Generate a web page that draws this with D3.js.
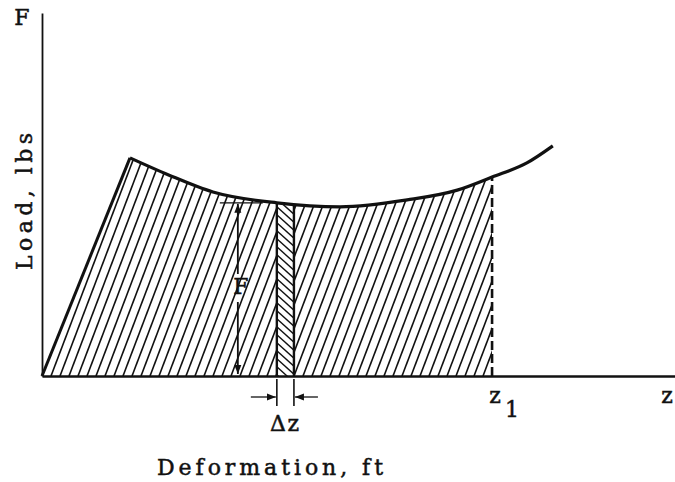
<!DOCTYPE html>
<html>
<head>
<meta charset="utf-8">
<script src="https://cdn.jsdelivr.net/npm/d3@7"></script>
<style>
body { margin: 0; background: #fff; }
text { font-family: "DejaVu Serif", serif; font-size: 22px; fill: #111; stroke: #111; stroke-width: 0.5px; }
</style>
</head>
<body>
<div id="chart"></div>
<script>
// load vs deformation (arbitrary units, no scale given)
var riseDeformation = [0, 1.39];
var riseLoad = [0, 60.1];
var curveDeformation = [1.39, 2.0, 2.7, 3.71, 4.71, 5.77, 6.56, 7.11, 7.66, 8.07];
var curveLoad = [60.1, 55.4, 50.7, 47.7, 46.6, 48.5, 51.2, 54.8, 58.7, 63.4];

// marked positions on the deformation axis
var z1 = 7.11, z1Load = 54.8;
var stripStart = 3.71, stripEnd = 3.98, stripLoad = 47.7;

var labels = { y: "Load, lbs", x: "Deformation, ft", yEnd: "F", xEnd: "z", z1: "z", z1Sub: "1", dz: "\u0394z", force: "F" };

var width = 675, height = 482;

var x = d3.scaleLinear().domain([0, 10]).range([42, 675]);
var y = d3.scaleLinear().domain([0, 100]).range([376, 13]);

var svg = d3.select("#chart").append("svg")
    .attr("width", width)
    .attr("height", height);

var defs = svg.append("defs");

defs.append("marker")
    .attr("id", "arrow")
    .attr("viewBox", "0 -4 9 8")
    .attr("refX", 9)
    .attr("refY", 0)
    .attr("markerUnits", "userSpaceOnUse")
    .attr("markerWidth", 9)
    .attr("markerHeight", 8)
    .attr("orient", "auto")
  .append("path")
    .attr("d", "M0,-3.5L9,0L0,3.5Z")
    .attr("fill", "#111");

var curvePts = curveDeformation.map(function(d, i) { return [d, curveLoad[i]]; });
var risePts = riseDeformation.map(function(d, i) { return [d, riseLoad[i]]; });

var line = d3.line()
    .x(function(d) { return x(d[0]); })
    .y(function(d) { return y(d[1]); })
    .curve(d3.curveMonotoneX);

var straight = d3.line()
    .x(function(d) { return x(d[0]); })
    .y(function(d) { return y(d[1]); });

// region under the load curve (rise + curve), used to clip hatching
var areaPath = "M" + x(0) + "," + y(0) + "L" + line(curvePts).slice(1) +
    "L" + x(curveDeformation[curveDeformation.length - 1]) + "," + y(0) + "Z";

defs.append("clipPath").attr("id", "under-curve")
  .append("path").attr("d", areaPath);

defs.append("clipPath").attr("id", "to-z1")
  .append("rect")
    .attr("x", x(0)).attr("y", y(100))
    .attr("width", x(z1) - x(0)).attr("height", y(0) - y(100));

defs.append("clipPath").attr("id", "strip")
  .append("rect")
    .attr("x", x(stripStart)).attr("y", y(100))
    .attr("width", x(stripEnd) - x(stripStart)).attr("height", y(0) - y(100));

var hatch = svg.append("g").attr("clip-path", "url(#to-z1)")
  .append("g").attr("clip-path", "url(#under-curve)");

// forward hatching
var lean = 0.38 * (y(0) - y(100));
hatch.selectAll(".hatch")
    .data(d3.range(-30, 60))
  .enter().append("line")
    .attr("class", "hatch")
    .attr("x1", function(k) { return x(0) + k * 9; })
    .attr("y1", y(0))
    .attr("x2", function(k) { return x(0) + k * 9 + lean; })
    .attr("y2", y(100))
    .attr("stroke", "#111")
    .attr("stroke-width", 1.6);

// the dz strip: blank it and hatch the other way
var strip = hatch.append("g").attr("clip-path", "url(#strip)");
strip.append("rect")
    .attr("x", x(stripStart)).attr("y", y(100))
    .attr("width", x(stripEnd) - x(stripStart)).attr("height", y(0) - y(100))
    .attr("fill", "#fff");

var sw = x(stripEnd) - x(stripStart);
strip.selectAll(".back")
    .data(d3.range(-2, 26))
  .enter().append("line")
    .attr("class", "back")
    .attr("x1", x(stripStart))
    .attr("y1", function(k) { return y(stripLoad) + k * 8 - 4; })
    .attr("x2", x(stripEnd))
    .attr("y2", function(k) { return y(stripLoad) + k * 8 - 4 + 0.9 * sw; })
    .attr("stroke", "#111")
    .attr("stroke-width", 1.4);

hatch.selectAll(".edge")
    .data([stripStart, stripEnd])
  .enter().append("line")
    .attr("class", "edge")
    .attr("x1", function(d) { return x(d); })
    .attr("x2", function(d) { return x(d); })
    .attr("y1", y(0))
    .attr("y2", y(80))
    .attr("stroke", "#111")
    .attr("stroke-width", 2.4);

// axes, no ticks
svg.append("g")
    .attr("transform", "translate(" + x(0) + ",0)")
    .call(d3.axisLeft(y).tickValues([]).tickSizeOuter(0))
    .select(".domain").attr("stroke", "#111").attr("stroke-width", 1.8);

svg.append("g")
    .attr("transform", "translate(0," + y(0) + ")")
    .call(d3.axisBottom(x).tickValues([]).tickSizeOuter(0))
    .select(".domain").attr("stroke", "#111").attr("stroke-width", 2.6);

// z1 dashed ordinate
svg.append("line")
    .attr("x1", x(z1)).attr("x2", x(z1))
    .attr("y1", y(0)).attr("y2", y(z1Load))
    .attr("stroke", "#111")
    .attr("stroke-width", 2.6)
    .attr("stroke-dasharray", "9,4");

// load curve
svg.append("path")
    .attr("d", straight(risePts))
    .attr("fill", "none")
    .attr("stroke", "#111")
    .attr("stroke-width", 3);

svg.append("path")
    .attr("d", line(curvePts))
    .attr("fill", "none")
    .attr("stroke", "#111")
    .attr("stroke-width", 3.2);

// F dimension
var fx = x(stripStart) - 39;
svg.append("line")
    .attr("x1", x(stripStart) - 57).attr("x2", x(stripStart) - 14)
    .attr("y1", y(stripLoad)).attr("y2", y(stripLoad))
    .attr("stroke", "#111").attr("stroke-width", 1.3);

svg.append("line")
    .attr("x1", fx).attr("x2", fx)
    .attr("y1", 274).attr("y2", y(stripLoad) + 1)
    .attr("stroke", "#111").attr("stroke-width", 1.8)
    .attr("marker-end", "url(#arrow)");

svg.append("line")
    .attr("x1", fx).attr("x2", fx)
    .attr("y1", 302).attr("y2", y(0) - 2)
    .attr("stroke", "#111").attr("stroke-width", 1.8)
    .attr("marker-end", "url(#arrow)");

svg.append("text")
    .attr("x", fx + 3).attr("y", 294)
    .attr("text-anchor", "middle")
    .text(labels.force);

// dz dimension
svg.selectAll(".ext")
    .data([stripStart, stripEnd])
  .enter().append("line")
    .attr("class", "ext")
    .attr("x1", function(d) { return x(d); })
    .attr("x2", function(d) { return x(d); })
    .attr("y1", y(0) + 3).attr("y2", y(0) + 30)
    .attr("stroke", "#111").attr("stroke-width", 1.6);

svg.append("line")
    .attr("x1", x(stripStart) - 26).attr("x2", x(stripStart) - 1)
    .attr("y1", 397).attr("y2", 397)
    .attr("stroke", "#111").attr("stroke-width", 1.3)
    .attr("marker-end", "url(#arrow)");

svg.append("line")
    .attr("x1", x(stripEnd) + 24).attr("x2", x(stripEnd) + 1)
    .attr("y1", 397).attr("y2", 397)
    .attr("stroke", "#111").attr("stroke-width", 1.3)
    .attr("marker-end", "url(#arrow)");

svg.append("text")
    .attr("x", 270).attr("y", 431)
    .attr("textLength", 29)
    .attr("lengthAdjust", "spacing")
    .text(labels.dz);

// axis labels
svg.append("text")
    .attr("x", 22).attr("y", 25)
    .attr("text-anchor", "middle")
    .text(labels.yEnd);

svg.append("text")
    .attr("transform", "translate(32,270) rotate(-90)")
    .attr("textLength", 137)
    .attr("lengthAdjust", "spacing")
    .text(labels.y);

svg.append("text")
    .attr("x", 667).attr("y", 403)
    .attr("text-anchor", "middle")
    .text(labels.xEnd);

svg.append("text")
    .attr("x", x(z1) + 3).attr("y", 403)
    .attr("text-anchor", "middle")
    .text(labels.z1);

svg.append("text")
    .attr("x", x(z1) + 20).attr("y", 417)
    .attr("text-anchor", "middle")
    .text(labels.z1Sub);

svg.append("text")
    .attr("x", 157).attr("y", 475)
    .attr("textLength", 226)
    .attr("lengthAdjust", "spacing")
    .text(labels.x);
</script>
</body>
</html>
